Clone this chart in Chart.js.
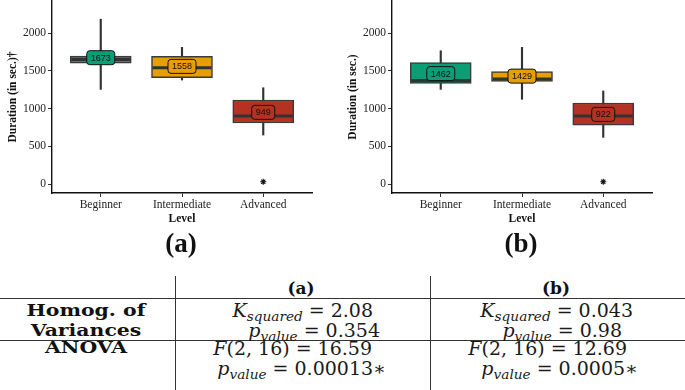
<!DOCTYPE html>
<html>
<head>
<meta charset="utf-8">
<script src="https://cdn.jsdelivr.net/npm/chart.js@4.4.0/dist/chart.umd.min.js"></script>
<style>
  html, body { margin: 0; padding: 0; background: #fff; }
  #page { position: relative; width: 685px; height: 390px; overflow: hidden; }
  canvas { position: absolute; top: 0; }
  .t { position: absolute; white-space: nowrap; transform: translate(-50%, -50%); color: #111;
       font-family: "DejaVu Serif", serif; font-size: 19px; line-height: 1; }
  .r { transform: translate(-100%, -50%); }
  .b { font-weight: bold; font-size: 17px; transform: translate(-50%, -50%) scaleX(1.2); }
  .hd { font-weight: bold; font-size: 17px; }
  .panel { font-family: "Liberation Serif", serif; font-weight: bold; font-size: 27px; }
  .m { color: #1a1a1a; }
  .m i { font-style: italic; }
  .sub { font-size: 0.72em; font-style: italic; position: relative; top: 0.3em; }
  .eq { margin: 0 6px; }
  .hl { position: absolute; left: 0; width: 685px; height: 0; border-top: 1.4px solid #333; }
  .vl { position: absolute; top: 276px; height: 114px; width: 0; border-left: 1.4px solid #333; }
</style>
</head>
<body>
<div id="page">
  <canvas id="chartA" width="340" height="230" style="left:0"></canvas>
  <canvas id="chartB" width="340" height="230" style="left:340px"></canvas>

  <div class="t panel" style="left:181px; top:243px">(a)</div>
  <div class="t panel" style="left:521px; top:243px">(b)</div>

  <div class="hl" style="top:298px"></div>
  <div class="hl" style="top:340px"></div>
  <div class="vl" style="left:175px"></div>
  <div class="vl" style="left:430px"></div>

  <div class="t hd" style="left:301px; top:288px">(a)</div>
  <div class="t hd" style="left:556px; top:288px">(b)</div>
  <div class="t b" style="left:86px; top:310px">Homog. of</div>
  <div class="t b" style="left:86px; top:330px">Variances</div>
  <div class="t b" style="left:86px; top:347px">ANOVA</div>

  <div class="t m r" style="left:373px; top:310px"><i>K</i><span class="sub">squared</span><span class="eq">=</span>2.08</div>
  <div class="t m r" style="left:380px; top:330px"><i>p</i><span class="sub">value</span><span class="eq">=</span>0.354</div>
  <div class="t m r" style="left:372px; top:348px"><i>F</i>(2, 16)<span class="eq">=</span>16.59</div>
  <div class="t m r" style="left:386px; top:368px"><i>p</i><span class="sub">value</span><span class="eq">=</span>0.00013∗</div>

  <div class="t m r" style="left:633px; top:310px"><i>K</i><span class="sub">squared</span><span class="eq">=</span>0.043</div>
  <div class="t m r" style="left:622px; top:330px"><i>p</i><span class="sub">value</span><span class="eq">=</span>0.98</div>
  <div class="t m r" style="left:627px; top:348px"><i>F</i>(2, 16)<span class="eq">=</span>12.69</div>
  <div class="t m r" style="left:638px; top:368px"><i>p</i><span class="sub">value</span><span class="eq">=</span>0.0005∗</div>
</div>

<script>
const levels = ['Beginner', 'Intermediate', 'Advanced'];
const fills = ['#0b9e75', '#e69f00', '#b53222'];
const yTicks = [0, 500, 1000, 1500, 2000];

// panel (a)
const aLow = [1253, 1377, 649];
const aHigh = [2183, 1810, 1275];
const aQ1 = [1602, 1410, 808];
const aQ3 = [1694, 1690, 1113];
const aMedian = [1648, 1540, 902];
const aMean = [1673, 1558, 949];
const aOutLevel = [3];
const aOutValue = [30];

// panel (b)
const bLow = [1254, 1122, 618];
const bHigh = [1765, 1810, 1232];
const bQ1 = [1334, 1360, 781];
const bQ3 = [1609, 1490, 1073];
const bMedian = [1370, 1391, 900];
const bMean = [1462, 1429, 922];
const bOutLevel = [3];
const bOutValue = [30];

// rounded label boxes showing the mean
const meanLabels = {
  id: 'meanLabels',
  afterDatasetsDraw(chart) {
    const ctx = chart.ctx;
    chart.data.datasets.forEach((ds, di) => {
      if (ds.label !== 'mean') return;
      chart.getDatasetMeta(di).data.forEach((pt, i) => {
        const txt = String(ds.data[i].y);
        ctx.save();
        ctx.font = '9px "Liberation Sans", Arial, sans-serif';
        const w = ctx.measureText(txt).width + 8, h = 14;
        ctx.beginPath();
        ctx.roundRect(pt.x - w / 2, pt.y - h / 2, w, h, 3);
        ctx.fillStyle = fills[i];
        ctx.fill();
        ctx.lineWidth = 1;
        ctx.strokeStyle = '#111';
        ctx.stroke();
        ctx.fillStyle = '#111';
        ctx.textAlign = 'center';
        ctx.textBaseline = 'middle';
        ctx.fillText(txt, pt.x, pt.y + 0.5);
        ctx.restore();
      });
    });
  }
};

function boxChart(id, yTitle, low, high, q1, q3, med, mean, outLevel, outValue) {
  const xs = [1, 2, 3];
  return new Chart(document.getElementById(id), {
    type: 'bar',
    data: {
      datasets: [
        {
          label: 'whisker',
          data: xs.map((x, i) => ({x: x, y: [low[i], high[i]]})),
          backgroundColor: '#333',
          barThickness: 1.5,
          grouped: false,
          order: 5
        },
        {
          label: 'box',
          data: xs.map((x, i) => ({x: x, y: [q1[i], q3[i]]})),
          backgroundColor: fills,
          borderColor: '#3a3a3a',
          borderWidth: 1.5,
          borderSkipped: false,
          barThickness: 61,
          grouped: false,
          order: 4
        },
        {
          type: 'scatter',
          label: 'median',
          data: xs.map((x, i) => ({x: x, y: med[i]})),
          pointStyle: 'line',
          pointRadius: 29.5,
          borderColor: '#333',
          borderWidth: 3,
          order: 3
        },
        {
          type: 'scatter',
          label: 'outlier',
          data: outLevel.map((x, i) => ({x: x, y: outValue[i]})),
          pointStyle: 'star',
          pointRadius: 3,
          borderColor: '#111',
          borderWidth: 1.1,
          order: 2
        },
        {
          type: 'scatter',
          label: 'mean',
          data: xs.map((x, i) => ({x: x, y: mean[i]})),
          pointRadius: 0,
          order: 1
        }
      ]
    },
    options: {
      responsive: false,
      animation: false,
      events: [],
      layout: { autoPadding: false, padding: { top: 1, right: 28, left: 0, bottom: 0 } },
      scales: {
        x: {
          type: 'linear',
          min: 0.4,
          max: 3.6,
          offset: false,
          afterBuildTicks: (s) => { s.ticks = xs.map(v => ({value: v})); },
          afterFit: (s) => { s.height = 37; s.paddingLeft = 0; s.paddingRight = 0; },
          grid: { offset: false, drawOnChartArea: false, color: '#333', tickLength: 4 },
          border: { color: '#111', width: 1.4 },
          ticks: {
            color: '#222',
            padding: 1,
            maxRotation: 0,
            font: { family: '"Liberation Serif", serif', size: 11.5 },
            callback: (v) => levels[v - 1]
          },
          title: {
            display: true,
            text: 'Level',
            color: '#111',
            padding: { top: 0, bottom: 4 },
            font: { family: '"Liberation Serif", serif', size: 11.5, weight: 'bold' }
          }
        },
        y: {
          min: -119,
          max: 2424,
          afterBuildTicks: (s) => { s.ticks = yTicks.map(v => ({value: v})); },
          afterFit: (s) => { s.width = 52; s.paddingTop = 0; s.paddingBottom = 0; },
          grid: { drawOnChartArea: false, color: '#333', tickLength: 4 },
          border: { color: '#111', width: 1.4 },
          ticks: {
            color: '#222',
            padding: 2,
            font: { family: '"Liberation Serif", serif', size: 11.5 },
            callback: (v) => String(v)
          },
          title: {
            display: true,
            text: yTitle,
            color: '#111',
            padding: { top: 6, bottom: 0 },
            font: { family: '"Liberation Serif", serif', size: 11.5, weight: 'bold' }
          }
        }
      },
      plugins: {
        legend: { display: false },
        tooltip: { enabled: false }
      }
    },
    plugins: [meanLabels]
  });
}

boxChart('chartA', 'Duration (in sec.)†', aLow, aHigh, aQ1, aQ3, aMedian, aMean, aOutLevel, aOutValue);
boxChart('chartB', 'Duration (in sec.)', bLow, bHigh, bQ1, bQ3, bMedian, bMean, bOutLevel, bOutValue);
</script>
</body>
</html>
